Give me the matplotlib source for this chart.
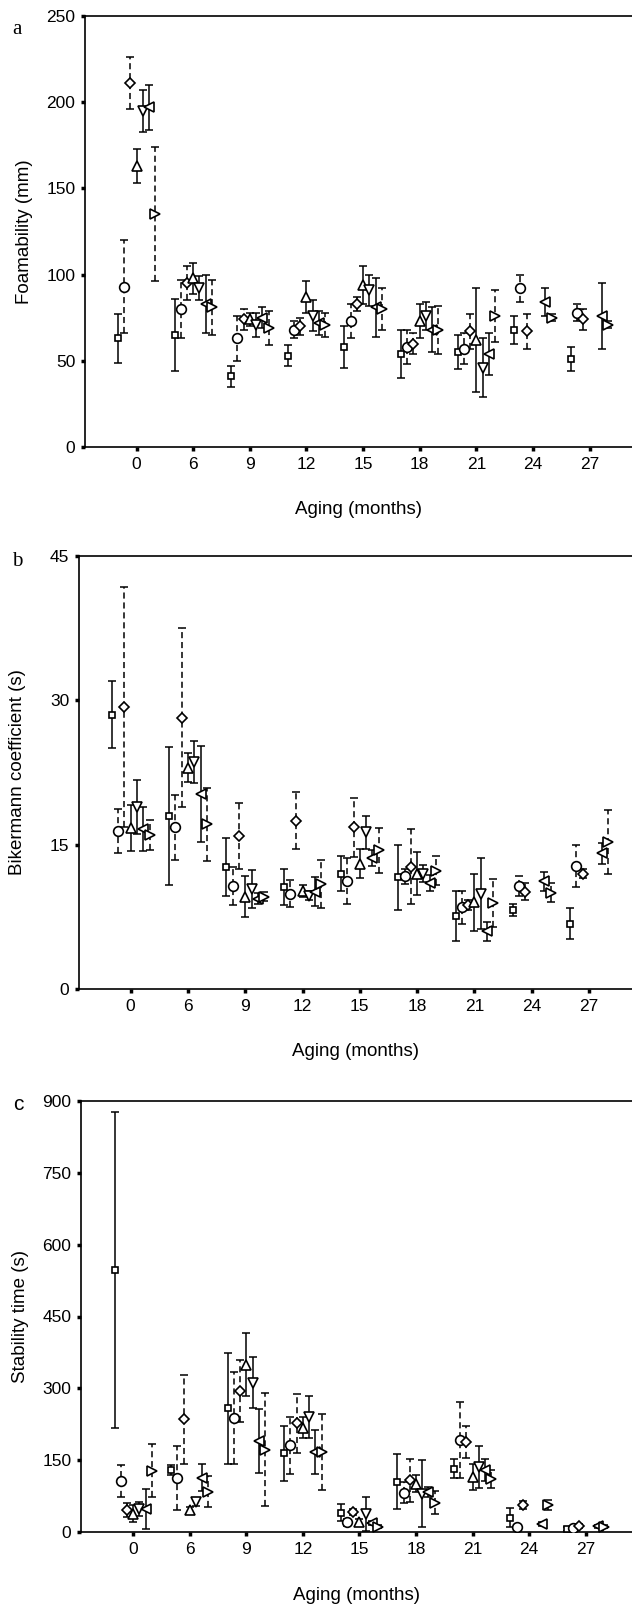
import matplotlib
matplotlib.use('Agg')
import matplotlib.pyplot as plt
import numpy as np

# aging times (months), one group of 7 beers/series per time
months = ['0', '6', '9', '12', '15', '18', '21', '24', '27']
markers = ['s', 'o', 'D', '^', 'v', '<', '>']
dashed = [False, True, True, False, False, False, True]
nan = np.nan

# ---- panel a: foamability (mm) ----
foam_mean = [
    [63, 65, 41, 53, 58, 54, 55, 68, 51],
    [93, 80, 63, 68, 73, 58, 57, 92, 78],
    [211, 95, 74, 70, 83, 60, 67, 67, 74],
    [163, 98, 74, 87, 94, 73, 62, nan, nan],
    [195, 92, 71, 76, 91, 76, 46, nan, nan],
    [197, 83, 75, 72, 81, 68, 54, 84, 76],
    [135, 81, 69, 71, 80, 68, 76, 75, 71],
]
foam_err = [
    [14, 21, 6, 6, 12, 14, 10, 8, 7],
    [27, 17, 13, 5, 10, 10, 9, 8, 5],
    [15, 10, 6, 5, 4, 6, 10, 10, 6],
    [10, 9, 4, 9, 11, 10, 30, nan, nan],
    [12, 7, 7, 9, 9, 8, 17, nan, nan],
    [13, 17, 6, 7, 17, 13, 12, 8, 19],
    [39, 16, 10, 7, 12, 14, 15, 2, 2],
]

# ---- panel b: Bikermann coefficient (s) ----
biker_mean = [
    [28.5, 18.0, 12.7, 10.6, 12.0, 11.6, 7.6, 8.2, 6.8],
    [16.4, 16.8, 10.7, 9.9, 11.2, 11.7, 8.5, 10.7, 12.8],
    [29.3, 28.2, 15.9, 17.5, 16.8, 12.7, 8.7, 10.1, 12.0],
    [16.7, 23.0, 9.6, 10.2, 13.0, 12.0, 9.0, nan, nan],
    [18.9, 23.6, 10.4, 9.7, 16.3, 12.0, 9.9, nan, nan],
    [16.6, 20.3, 9.4, 10.1, 13.6, 11.0, 6.0, 11.2, 14.1],
    [16.0, 17.1, 9.6, 10.9, 14.4, 12.3, 8.9, 10.0, 15.3],
]
biker_err = [
    [3.5, 7.2, 3.0, 1.9, 1.8, 3.4, 2.6, 0.6, 1.6],
    [2.3, 3.4, 2.0, 1.4, 2.4, 0.8, 1.7, 1.0, 2.2],
    [12.5, 9.3, 3.4, 3.0, 3.1, 3.9, 0.5, 0.9, 0.5],
    [2.4, 1.5, 2.1, 0.6, 1.5, 2.2, 3.0, nan, nan],
    [2.8, 2.2, 2.0, 0.5, 1.7, 0.9, 3.7, nan, nan],
    [2.3, 5.0, 0.6, 1.5, 0.8, 0.8, 1.0, 1.0, 1.1],
    [1.6, 3.8, 0.5, 2.5, 2.3, 1.5, 2.5, 1.0, 3.3],
]

# ---- panel c: stability time (s) ----
stab_mean = [
    [548, 129, 258, 164, 40, 105, 132, 30, 7],
    [106, 113, 239, 181, 20, 82, 192, 10, 9],
    [46, 235, 295, 227, 42, 108, 188, 56, 12],
    [38, 45, 349, 218, 20, 101, 115, nan, nan],
    [48, 63, 312, 241, 38, 80, 136, nan, nan],
    [48, 113, 190, 167, 19, 84, 129, 16, 12],
    [128, 84, 172, 167, 11, 61, 110, 56, 11],
]
stab_err = [
    [330, 10, 116, 58, 18, 57, 20, 20, 4],
    [33, 67, 96, 60, 8, 22, 80, 5, 3],
    [15, 92, 65, 61, 7, 45, 33, 8, 4],
    [18, 8, 66, 22, 8, 18, 28, nan, nan],
    [14, 8, 53, 44, 36, 70, 44, nan, nan],
    [42, 28, 66, 46, 5, 10, 23, 4, 3],
    [55, 32, 118, 80, 3, 24, 19, 10, 3],
]

plt.rcParams['font.family'] = ['Liberation Sans', 'DejaVu Sans']

W, H = 632, 1604
fig = plt.figure(figsize=(W / 100, H / 100), dpi=100)

offsets = np.array([-0.33, -0.22, -0.11, 0.0, 0.11, 0.22, 0.33])
ms = {'s': 3.8, 'o': 7, 'D': 5.2, '^': 6.5, 'v': 6.5, '<': 6.5, '>': 6.5}


def draw_panel(rect_px, xlim, means, errs, ymax, yticks, ylabel, xlabel_y,
               letter, letter_xy, letter_font):
    # rect_px: left, top, bottom in pixels
    left, top, bottom = rect_px
    ax = fig.add_axes([left / W, 1 - bottom / H, 1 - left / W, (bottom - top) / H])
    x = np.arange(len(months))
    for k in range(len(markers)):
        xs = x + offsets[k]
        eb = ax.errorbar(xs, means[k], yerr=errs[k], fmt='none', ecolor='black',
                         elinewidth=1.1, capsize=3, capthick=1.1, zorder=2)
        if dashed[k]:
            eb[2][0].set_linestyle((0, (4, 2.5)))
        ax.plot(xs, means[k], ls='none', marker=markers[k], ms=ms[markers[k]],
                mfc='white', mec='black', mew=1.2, zorder=3)
    ax.set_xlim(*xlim)
    ax.set_ylim(0, ymax)
    ax.set_xticks(x)
    ax.set_xticklabels(months)
    ax.set_yticks(yticks)
    ax.spines['right'].set_visible(False)
    for s in ['top', 'left', 'bottom']:
        ax.spines[s].set_linewidth(1.2)
    ax.tick_params(direction='out', length=3, width=2.5, labelsize=12.5, pad=4)
    ax.set_xlabel('Aging (months)', fontsize=13.5)
    ax.xaxis.set_label_coords(0.5, xlabel_y)
    ax.set_ylabel(ylabel, fontsize=13.5)
    ax.yaxis.set_label_coords(-0.095, 0.5)
    fig.text(letter_xy[0] / W, 1 - letter_xy[1] / H, letter, fontsize=15,
             family=letter_font, ha='left', va='center')
    return ax


draw_panel((85, 16, 447), (-0.912, 8.75), foam_mean, foam_err, 250,
           [0, 50, 100, 150, 200, 250], 'Foamability (mm)', -0.125,
           'a', (12, 29), 'Liberation Serif')
draw_panel((79, 556, 989), (-0.902, 8.75), biker_mean, biker_err, 45,
           [0, 15, 30, 45], 'Bikermann coefficient (s)', -0.125,
           'b', (12, 561), 'Liberation Serif')
draw_panel((81, 1101, 1532), (-0.924, 8.82), stab_mean, stab_err, 900,
           [0, 150, 300, 450, 600, 750, 900], 'Stability time (s)', -0.127,
           'c', (13, 1104), 'Liberation Sans')

fig.savefig('out.png', dpi=100)
